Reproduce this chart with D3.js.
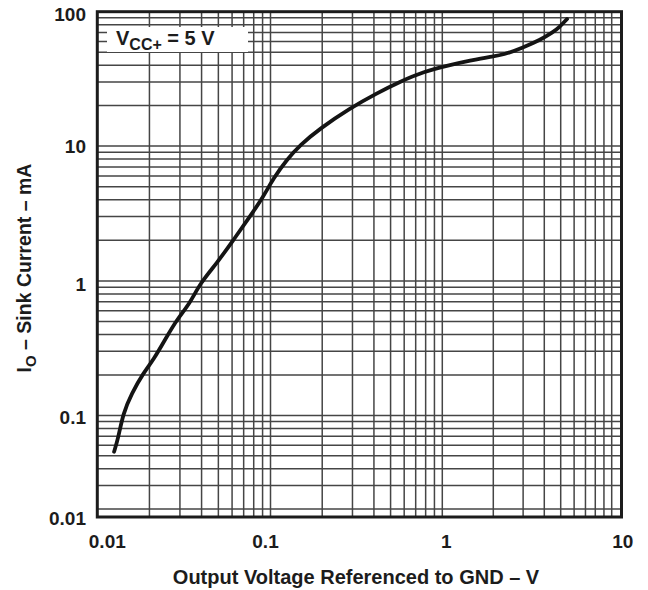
<html>

<head>
    <style>
        body {
            margin: 0;
            background: #ffffff;
        }
        text {
            font-family: "Liberation Sans", Arial, sans-serif;
            font-weight: bold;
            fill: #1c1c1c;
        }
    </style>
</head>

<body>
    <svg id="container" width="648" height="590"></svg>
</body>

<script src="https://cdn.jsdelivr.net/npm/d3@7"></script>
<script>
    // sink current vs output voltage
    let voltage = [0.0125, 0.0132, 0.0141, 0.0158, 0.0184, 0.0211, 0.0252, 0.0287, 0.0343, 0.0392,
        0.0489, 0.061, 0.0761, 0.0909, 0.104, 0.124, 0.149, 0.194, 0.29, 0.415,
        0.567, 0.775, 1.11, 1.46, 1.91, 2.29, 3.01, 3.77, 4.5, 4.95, 5.45]
    let current = [0.0536, 0.0676, 0.104, 0.146, 0.206, 0.259, 0.386, 0.513, 0.683, 0.962,
        1.35, 2.01, 3.0, 4.21, 5.76, 7.88, 10.2, 13.5, 19.1, 24.7,
        30.1, 35.7, 40.1, 43.2, 46.2, 47.6, 54.3, 61.5, 70.2, 77.3, 88.2]

    let xTickValues = [0.01, 0.1, 1, 10]
    let xTickLabels = ["0.01", "0.1", "1", "10"]
    let yTickValues = [0.01, 0.1, 1, 10, 100]
    let yTickLabels = ["0.01", "0.1", "1", "10", "100"]

    let svg = d3.select("#container")

    let plotLeft = 97.3, plotRight = 621.5, plotTop = 11.7, plotBottom = 517

    // grid in the original is hand drawn, decades are not all the same size
    let x = d3.scaleLog()
        .domain([0.01, 0.1, 1, 10])
        .range([97.3, 270.5, 442.3, 611.7])
    let y = d3.scaleLog()
        .domain([0.01, 0.02, 0.1, 1, 10, 100])
        .range([517, 509, 415.5, 281, 146, 11.7])

    let grid = svg.append("g")
    grid.selectAll(".vline")
        .data(x.ticks().filter(d => d > 0.01))
        .enter()
        .append("line")
        .attr("x1", d => x(d))
        .attr("x2", d => x(d))
        .attr("y1", plotTop)
        .attr("y2", plotBottom)
        .attr("stroke", "#454545")
        .attr("stroke-width", 1.5)
    grid.selectAll(".hline")
        .data(y.ticks().filter(d => d > 0.01 && d < 100))
        .enter()
        .append("line")
        .attr("x1", plotLeft)
        .attr("x2", plotRight)
        .attr("y1", d => y(d))
        .attr("y2", d => y(d))
        .attr("stroke", "#454545")
        .attr("stroke-width", 1.5)

    let line = d3.line()
        .x((d, i) => x(voltage[i]))
        .y((d, i) => y(current[i]))
        .curve(d3.curveBasis)

    svg.append("path")
        .attr("d", line(voltage))
        .attr("fill", "none")
        .attr("stroke", "#141414")
        .attr("stroke-width", 3.8)
        .attr("stroke-linecap", "round")
        .attr("stroke-linejoin", "round")

    // condition label
    svg.append("rect")
        .attr("x", 107)
        .attr("y", 27)
        .attr("width", 141)
        .attr("height", 25)
        .attr("fill", "#ffffff")
    let cond = svg.append("text")
        .attr("x", 116)
        .attr("y", 45)
        .style("font-size", "20px")
    cond.append("tspan").text("V")
    cond.append("tspan").attr("dy", 5).style("font-size", "16px").text("CC+")
    cond.append("tspan").attr("dy", -5).text(" = 5 V")

    svg.append("rect")
        .attr("x", plotLeft)
        .attr("y", plotTop)
        .attr("width", plotRight - plotLeft)
        .attr("height", plotBottom - plotTop)
        .attr("fill", "none")
        .attr("stroke", "#1c1c1c")
        .attr("stroke-width", 3)

    // tick labels
    let xNudge = [10, -5, 4, 11]
    svg.selectAll(".xlab")
        .data(xTickValues)
        .enter()
        .append("text")
        .attr("x", (d, i) => x(d) + xNudge[i])
        .attr("y", 548)
        .attr("text-anchor", "middle")
        .style("font-size", "19px")
        .text((d, i) => xTickLabels[i])

    let yNudge = [8, 8, 10, 7, 9]
    svg.selectAll(".ylab")
        .data(yTickValues)
        .enter()
        .append("text")
        .attr("x", 86)
        .attr("y", (d, i) => y(d) + yNudge[i])
        .attr("text-anchor", "end")
        .style("font-size", "19px")
        .text((d, i) => yTickLabels[i])

    svg.append("text")
        .attr("x", 356)
        .attr("y", 584)
        .attr("text-anchor", "middle")
        .style("font-size", "20px")
        .text("Output Voltage Referenced to GND – V")

    let ytitle = svg.append("text")
        .attr("transform", "translate(31,268) rotate(-90)")
        .attr("text-anchor", "middle")
        .style("font-size", "19.5px")
    ytitle.append("tspan").text("I")
    ytitle.append("tspan").attr("dy", 5).style("font-size", "15px").text("O")
    ytitle.append("tspan").attr("dy", -5).text(" – Sink Current – mA")
</script>

</html>
